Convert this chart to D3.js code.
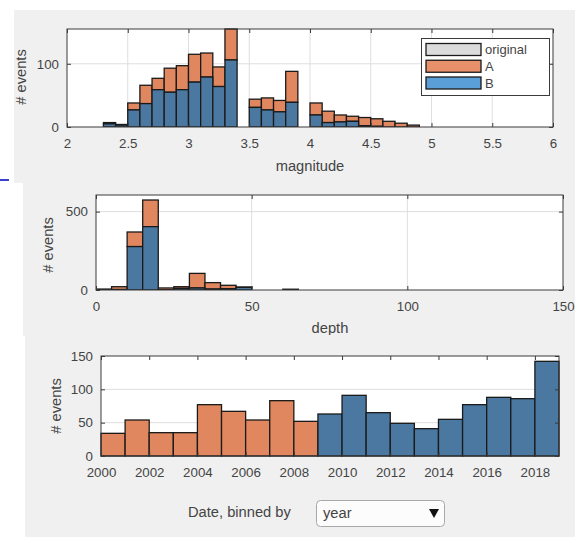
<!DOCTYPE html>
<html>
<head>
<meta charset="utf-8">
<script src="https://cdn.jsdelivr.net/npm/d3@7"></script>
<style>
  body { margin: 0; background: #fff; }
  svg { display: block; font-family: "Liberation Sans", Arial, sans-serif; }
</style>
</head>
<body>
<svg id="chart" width="579" height="539"></svg>
<script>
// ---- magnitude histogram (bin width 0.1, left edges) ----
const magBins = [2.3, 2.4, 2.5, 2.6, 2.7, 2.8, 2.9, 3.0, 3.1, 3.2, 3.3, 3.4, 3.5,
                 3.6, 3.7, 3.8, 3.9, 4.0, 4.1, 4.2, 4.3, 4.4, 4.5, 4.6, 4.7, 4.8];
const magB = [5, 3, 27, 37, 59, 55, 59, 71, 79, 64, 106, 0, 31,
              27, 24, 39, 0, 19, 7, 8, 9, 2, 1, 0, 0, 0];
const magA = [2, 1, 11, 29, 18, 38, 38, 44, 38, 31, 49, 0, 13,
              19, 18, 49, 0, 19, 18, 11, 8, 13, 12, 9, 6, 3];
const magTicks = [2, 2.5, 3, 3.5, 4, 4.5, 5, 5.5, 6];
const magYTicks = [0, 100];

// ---- depth histogram (bin width 5 km, left edges) ----
const depthBins = [0, 5, 10, 15, 20, 25, 30, 35, 40, 45, 50, 55, 60];
const depthB = [2, 3, 277, 404, 1, 10, 13, 6, 8, 17, 0, 0, 5];
const depthA = [4, 18, 93, 170, 12, 11, 93, 41, 22, 2, 0, 0, 0];
const depthTicks = [0, 50, 100, 150];
const depthYTicks = [0, 500];

// ---- events per year ----
const years = [2000, 2001, 2002, 2003, 2004, 2005, 2006, 2007, 2008, 2009,
               2010, 2011, 2012, 2013, 2014, 2015, 2016, 2017, 2018];
const yearCounts = [34, 54, 35, 35, 77, 67, 54, 83, 52, 63,
                    91, 65, 49, 41, 55, 77, 88, 86, 142];
const yearGroup = ["A", "A", "A", "A", "A", "A", "A", "A", "A", "B",
                   "B", "B", "B", "B", "B", "B", "B", "B", "B"];
const yearTicks = [2000, 2002, 2004, 2006, 2008, 2010, 2012, 2014, 2016, 2018];
const yearYTicks = [0, 50, 100, 150];

const legendLabels = ["original", "A", "B"];

const COL_A = "#e0875f";
const COL_B = "#4a78a0";
const LEG = { original: "#dcdcdc", A: "#e8906a", B: "#5a9fd8" };
const TXT = "#444";
const GRID = "#dedede";
const BOX = "#3a3a3a";

const svg = d3.select("#chart");

// panel backgrounds
svg.append("rect").attr("x", 14).attr("y", 10).attr("width", 561).attr("height", 173).attr("fill", "#f0f0f0");
svg.append("rect").attr("x", 23).attr("y", 183).attr("width", 552).attr("height", 153).attr("fill", "#f0f0f0");
svg.append("rect").attr("x", 25).attr("y", 336).attr("width", 550).attr("height", 201).attr("fill", "#f0f0f0");
svg.append("rect").attr("x", 0).attr("y", 179).attr("width", 9).attr("height", 2).attr("fill", "#3a40d0");

const defs = svg.append("defs");

function axesFrame(g, x, y, xTicks, yTicks, opt) {
  const [x0, x1] = x.range();
  const [y0, y1] = y.range(); // y0 bottom, y1 top
  g.append("rect").attr("x", x0).attr("y", y1).attr("width", x1 - x0).attr("height", y0 - y1).attr("fill", "#fff");
  if (opt.xGrid) {
    g.selectAll(null).data(xTicks.slice(1, -1)).join("line")
      .attr("x1", d => x(d)).attr("x2", d => x(d)).attr("y1", y1).attr("y2", y0)
      .attr("stroke", GRID).attr("stroke-width", 1);
  }
  g.selectAll(null).data(yTicks.filter(t => t > y.domain()[0] && t < y.domain()[1])).join("line")
    .attr("x1", x0).attr("x2", x1).attr("y1", d => y(d)).attr("y2", d => y(d))
    .attr("stroke", GRID).attr("stroke-width", 1);
}

function axesDecor(g, x, y, xTicks, yTicks, opt) {
  const [x0, x1] = x.range();
  const [y0, y1] = y.range();
  // inward tick marks, bottom + top
  const xa = d3.axisBottom(x).tickValues(xTicks).tickSizeInner(-4).tickSizeOuter(0).tickPadding(opt.xPad)
    .tickFormat(opt.xFmt || (d => d));
  const gx = g.append("g").attr("transform", `translate(0,${y0})`).call(xa);
  gx.select(".domain").remove();
  gx.selectAll("line").attr("stroke", BOX);
  gx.selectAll("text").attr("fill", TXT).attr("font-size", 13.3).attr("font-family", "Liberation Sans, Arial, sans-serif");
  const xt = d3.axisTop(x).tickValues(xTicks).tickSizeInner(-4).tickSizeOuter(0).tickFormat("");
  const gxt = g.append("g").attr("transform", `translate(0,${y1})`).call(xt);
  gxt.select(".domain").remove();
  gxt.selectAll("line").attr("stroke", BOX);

  const ya = d3.axisLeft(y).tickValues(yTicks).tickSizeInner(-4).tickSizeOuter(0).tickPadding(opt.yPad);
  const gy = g.append("g").attr("transform", `translate(${x0},0)`).call(ya);
  gy.select(".domain").remove();
  gy.selectAll("line").attr("stroke", BOX);
  gy.selectAll("text").attr("fill", TXT).attr("font-size", 13.3).attr("font-family", "Liberation Sans, Arial, sans-serif");
  const yr = d3.axisRight(y).tickValues(yTicks).tickSizeInner(-4).tickSizeOuter(0).tickFormat("");
  const gyr = g.append("g").attr("transform", `translate(${x1},0)`).call(yr);
  gyr.select(".domain").remove();
  gyr.selectAll("line").attr("stroke", BOX);

  g.append("rect").attr("x", x0).attr("y", y1).attr("width", x1 - x0).attr("height", y0 - y1)
    .attr("fill", "none").attr("stroke", BOX).attr("stroke-width", 1);

  g.append("text").attr("x", opt.xLabelX).attr("y", opt.xLabelY).attr("text-anchor", "middle")
    .attr("font-size", 14.7).attr("fill", TXT).text(opt.xLabel);
  if (opt.yLabel) {
    g.append("text").attr("transform", `translate(${opt.yLabelX},${opt.yLabelY}) rotate(-90)`)
      .attr("text-anchor", "middle").attr("font-size", 14.7).attr("fill", TXT).text(opt.yLabel);
  }
}

function stackedBars(g, x, y, bins, width, B, A, clipId) {
  const rows = bins.map((b, i) => ({ b, B: B[i], A: A[i] })).filter(d => d.A + d.B > 0);
  const bars = g.append("g").attr("clip-path", `url(#${clipId})`);
  bars.selectAll(null).data(rows.filter(d => d.A > 0)).join("rect")
    .attr("x", d => x(d.b)).attr("width", d => x(d.b + width) - x(d.b))
    .attr("y", d => y(d.B + d.A)).attr("height", d => y(d.B) - y(d.B + d.A))
    .attr("fill", COL_A).attr("stroke", "#1a1a1a").attr("stroke-width", 1.3);
  bars.selectAll(null).data(rows.filter(d => d.B > 0)).join("rect")
    .attr("x", d => x(d.b)).attr("width", d => x(d.b + width) - x(d.b))
    .attr("y", d => y(d.B)).attr("height", d => y(0) - y(d.B))
    .attr("fill", COL_B).attr("stroke", "#1a1a1a").attr("stroke-width", 1.3);
}

function clipFor(id, x, y) {
  const [x0, x1] = x.range();
  const [y0, y1] = y.range();
  defs.append("clipPath").attr("id", id).append("rect")
    .attr("x", x0).attr("y", y1 - 1).attr("width", x1 - x0).attr("height", y0 - y1 + 1);
}

// ---------- magnitude ----------
{
  const g = svg.append("g");
  const x = d3.scaleLinear().domain([2, 6]).range([67, 553]);
  const y = d3.scaleLinear().domain([0, 155]).range([127, 29]);
  axesFrame(g, x, y, magTicks, magYTicks, { xGrid: true });
  clipFor("clipMag", x, y);
  stackedBars(g, x, y, magBins, 0.1, magB, magA, "clipMag");
  axesDecor(g, x, y, magTicks, magYTicks, {
    xPad: 12, yPad: 8, xFmt: d => d,
    xLabel: "magnitude", xLabelX: 310, xLabelY: 171,
    yLabel: "# events", yLabelX: 26, yLabelY: 77
  });

  // legend
  const lg = g.append("g");
  lg.append("rect").attr("x", 421.5).attr("y", 38.5).attr("width", 128).attr("height", 57)
    .attr("fill", "#fff").attr("stroke", BOX).attr("stroke-width", 1);
  const rowY = d3.scalePoint().domain(legendLabels).range([43.5, 77]);
  legendLabels.forEach(k => {
    lg.append("rect").attr("x", 426).attr("y", rowY(k)).attr("width", 55).attr("height", 12)
      .attr("fill", LEG[k]).attr("stroke", "#1a1a1a").attr("stroke-width", 1.3);
    lg.append("text").attr("x", 485).attr("y", rowY(k) + 10.5).attr("font-size", 13)
      .attr("fill", TXT).text(k);
  });
}

// ---------- depth ----------
{
  const g = svg.append("g");
  defs.append("clipPath").attr("id", "clipDepthPanel").append("rect")
    .attr("x", 0).attr("y", 183).attr("width", 579).attr("height", 152);
  g.attr("clip-path", "url(#clipDepthPanel)");
  const x = d3.scaleLinear().domain([0, 150]).range([96, 563]);
  const y = d3.scaleLinear().domain([0, 606]).range([290, 195]);
  axesFrame(g, x, y, depthTicks, depthYTicks, { xGrid: true });
  clipFor("clipDepth", x, y);
  stackedBars(g, x, y, depthBins, 5, depthB, depthA, "clipDepth");
  axesDecor(g, x, y, depthTicks, depthYTicks, {
    xPad: 12, yPad: 8,
    xLabel: "depth", xLabelX: 330, xLabelY: 333,
    yLabel: "# events", yLabelX: 53, yLabelY: 245
  });
}

// ---------- date ----------
{
  const g = svg.append("g");
  const x = d3.scaleLinear().domain([2000, 2019]).range([101, 559]);
  const y = d3.scaleLinear().domain([0, 150]).range([456, 356]);
  axesFrame(g, x, y, yearTicks, yearYTicks, { xGrid: false });
  g.selectAll(null).data(years.map((yr, i) => ({ yr, n: yearCounts[i], grp: yearGroup[i] }))).join("rect")
    .attr("x", d => x(d.yr)).attr("width", d => x(d.yr + 1) - x(d.yr))
    .attr("y", d => y(d.n)).attr("height", d => y(0) - y(d.n))
    .attr("fill", d => d.grp === "A" ? COL_A : COL_B)
    .attr("stroke", "#1a1a1a").attr("stroke-width", 1.3);
  axesDecor(g, x, y, yearTicks, yearYTicks, {
    xPad: 12, yPad: 8, xFmt: d3.format("d"),
    xLabel: "", xLabelX: 0, xLabelY: 0,
    yLabel: "# events", yLabelX: 61, yLabelY: 406
  });

  // bin-size control
  g.append("text").attr("x", 188).attr("y", 517).attr("font-size", 14.7).attr("fill", TXT).text("Date, binned by");
  g.append("rect").attr("x", 316.5).attr("y", 500.5).attr("width", 128).attr("height", 26).attr("rx", 4)
    .attr("fill", "#fcfcfc").attr("stroke", "#a8a8a8");
  g.append("text").attr("x", 323).attr("y", 518).attr("font-size", 14.7).attr("fill", TXT).text("year");
  g.append("path").attr("d", "M429,509 L439,509 L434,518 Z").attr("fill", "#111");
}
</script>
</body>
</html>
